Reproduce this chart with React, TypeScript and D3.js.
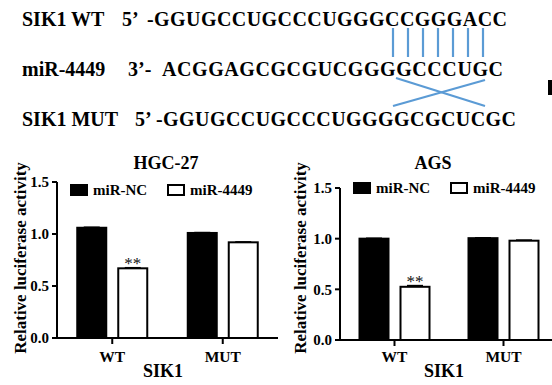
import React from "react";
import * as d3 from "d3";

// sequence diagram
const rowLabels = ["SIK1 WT", "miR-4449", "SIK1 MUT"];
const rowEnds = ["5’", "3’-", "5’"];
const rowSeqs = ["-GGUGCCUGCCCUGGGCCGGGACC", "ACGGAGCGCGUCGGGGCCCUGC", "-GGUGCCUGCCCUGGGGCGCUCGC"];
const pairCount = 7;

// luciferase data
const groups = ["WT", "MUT"];
const seriesNames = ["miR-NC", "miR-4449"];
const hgcNC = [1.06, 1.01];
const hgc4449 = [0.67, 0.92];
const hgcErrNC = [0.005, 0.004];
const hgcErr4449 = [0.006, 0.004];
const agsNC = [1.0, 1.005];
const ags4449 = [0.525, 0.98];
const agsErrNC = [0.004, 0.004];
const agsErr4449 = [0.012, 0.006];
const yTicks = [0, 0.5, 1.0, 1.5];
const sigLabels = ["**", ""];

const serif = "Liberation Serif, Times New Roman, DejaVu Serif, serif";
const blue = "#5b9bd5";

type PanelProps = {
  title: string;
  nc: number[];
  mi: number[];
  errNC: number[];
  errMi: number[];
  x0: number;
  x1: number;
  yBottom: number;
  yTop: number;
  titleX: number;
  xLabelX: number;
  yLabelX: number;
  legendY: number;
};

function Panel(p: PanelProps) {
  const y = d3.scaleLinear().domain([0, 1.5]).range([p.yBottom, p.yTop]);
  const x = d3.scaleBand().domain(groups).range([p.x0, p.x1]).padding(0);
  const inner = d3.scaleBand().domain(seriesNames).range([-35, 35]).paddingInner(12 / 41).paddingOuter(0);
  const values = [p.nc, p.mi];
  const errs = [p.errNC, p.errMi];
  const bw = inner.bandwidth();
  return (
    <g style={{ fontFamily: serif, fontWeight: "bold" }}>
      <text x={p.titleX} y={169} textAnchor="middle" fontSize={18}>{p.title}</text>
      {/* legend */}
      {seriesNames.map((s, i) => {
        const lx = p.x0 + 14 + i * 97;
        return (
          <g key={s}>
            <rect x={lx} y={p.legendY} width={16} height={10} fill={i === 0 ? "#000" : "#fff"} stroke="#000" strokeWidth={2} />
            <text x={lx + 22} y={p.legendY + 10} fontSize={15}>{s}</text>
          </g>
        );
      })}
      {/* bars */}
      {groups.map((g, gi) => {
        const cx = (x(g) as number) + x.bandwidth() / 2;
        return (
          <g key={g}>
            {seriesNames.map((s, si) => {
              const v = values[si][gi];
              const e = errs[si][gi];
              const bx = cx + (inner(s) as number);
              return (
                <g key={s}>
                  <line x1={bx + bw / 2} x2={bx + bw / 2} y1={y(v)} y2={y(v + e)} stroke="#000" strokeWidth={1.5} />
                  <line x1={bx + bw / 2 - 8} x2={bx + bw / 2 + 8} y1={y(v + e)} y2={y(v + e)} stroke="#000" strokeWidth={1.5} />
                  <rect x={bx} y={y(v)} width={bw} height={y(0) - y(v)} fill={si === 0 ? "#000" : "#fff"} stroke="#000" strokeWidth={2} />
                  {si === 1 && sigLabels[gi] && (
                    <text x={bx + bw / 2} y={y(v + e) + 1} textAnchor="middle" fontSize={17} style={{ fontWeight: "normal" }} fill="#111">
                      {sigLabels[gi]}
                    </text>
                  )}
                </g>
              );
            })}
            <line x1={cx} x2={cx} y1={p.yBottom} y2={p.yBottom + 6} stroke="#000" strokeWidth={2} />
            <text x={cx} y={362} textAnchor="middle" fontSize={15.5}>{g}</text>
          </g>
        );
      })}
      {/* axes */}
      <line x1={p.x0} x2={p.x1} y1={p.yBottom} y2={p.yBottom} stroke="#000" strokeWidth={2} />
      <line x1={p.x0} x2={p.x0} y1={p.yTop} y2={p.yBottom} stroke="#000" strokeWidth={2} />
      {yTicks.map((t) => (
        <g key={t}>
          <line x1={p.x0 - 5} x2={p.x0} y1={y(t)} y2={y(t)} stroke="#000" strokeWidth={2} />
          <text x={p.x0 - 8} y={y(t)} dy="0.35em" textAnchor="end" fontSize={15}>{t.toFixed(1)}</text>
        </g>
      ))}
      <text x={p.xLabelX} y={377} textAnchor="middle" fontSize={18}>SIK1</text>
      <text transform={`translate(${p.yLabelX},258) rotate(-90)`} textAnchor="middle" fontSize={17}>
        Relative luciferase activity
      </text>
    </g>
  );
}

export default function App() {
  const rowY = [26, 76, 126];
  const endX = [122, 128, 135];
  const seqX = [147, 162, 156];
  const seqLen = [360, 341, 360];
  const pairX = d3.scaleLinear().domain([0, pairCount - 1]).range([393, 483]);
  return (
    <svg width={552} height={385} style={{ position: "absolute", left: 0, top: 0, background: "#fff" }}>
      <rect width={552} height={385} fill="#fff" />
      <g style={{ fontFamily: serif, fontWeight: "bold", fontSize: 20 }}>
        {rowLabels.map((l, i) => (
          <g key={l}>
            <text x={22} y={rowY[i]}>{l}</text>
            <text x={endX[i]} y={rowY[i]}>{rowEnds[i]}</text>
            <text x={seqX[i]} y={rowY[i]} textLength={seqLen[i]} lengthAdjust="spacing">{rowSeqs[i]}</text>
          </g>
        ))}
      </g>
      {d3.range(pairCount).map((i) => (
        <line key={i} x1={pairX(i)} x2={pairX(i)} y1={28} y2={57} stroke={blue} strokeWidth={2.2} />
      ))}
      <line x1={396} y1={78} x2={485} y2={106} stroke={blue} strokeWidth={2.2} />
      <line x1={393} y1={106} x2={485} y2={80} stroke={blue} strokeWidth={2.2} />
      <rect x={548} y={80} width={4} height={15} fill="#000" />

      <Panel title="HGC-27" nc={hgcNC} mi={hgc4449} errNC={hgcErrNC} errMi={hgcErr4449}
        x0={57} x1={278} yBottom={338} yTop={182} titleX={166} xLabelX={163} yLabelX={26} legendY={185} />
      <Panel title="AGS" nc={agsNC} mi={ags4449} errNC={agsErrNC} errMi={agsErr4449}
        x0={340} x1={558} yBottom={340} yTop={188} titleX={433} xLabelX={444} yLabelX={306} legendY={183} />
    </svg>
  );
}
